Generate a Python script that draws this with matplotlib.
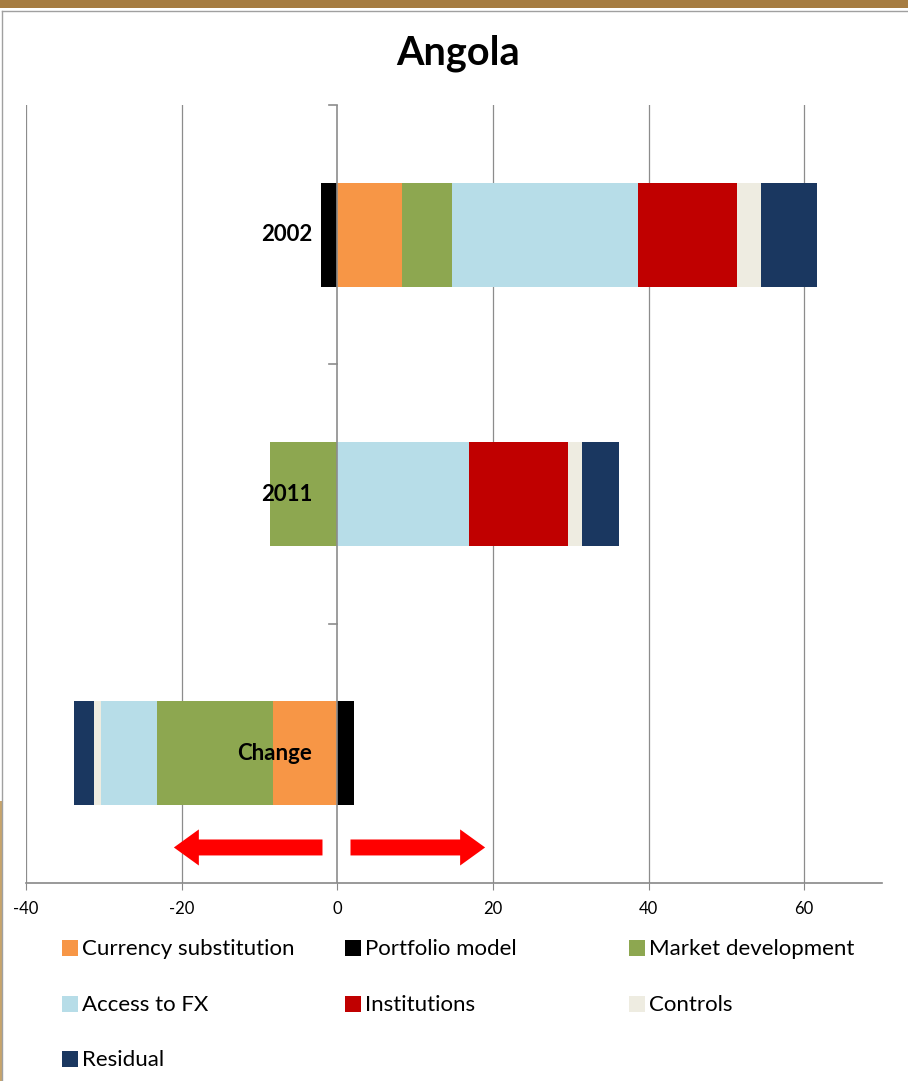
import matplotlib
matplotlib.use("Agg")
import matplotlib.pyplot as plt
from matplotlib.patches import Rectangle, FancyArrowPatch
import numpy as np

plt.rcParams['font.family'] = ['Lato', 'DejaVu Sans']

categories = ["2002", "2011", "Change"]
series_names = ["Currency substitution", "Portfolio model", "Market development",
                "Access to FX", "Institutions", "Controls", "Residual"]
currency_substitution = [8.3, 0.0, -8.3]
portfolio_model = [-2.1, 0.0, 2.1]
market_development = [6.4, -8.6, -14.9]
access_to_fx = [24.0, 16.9, -7.1]
institutions = [12.7, 12.7, 0.0]
controls = [3.1, 1.9, -1.0]
residual = [7.2, 4.7, -2.5]
series_values = [currency_substitution, portfolio_model, market_development,
                 access_to_fx, institutions, controls, residual]
colors = ["#F79646", "#000000", "#8DA750", "#B7DDE8", "#C00000", "#EEECE1", "#1A3760"]
x_ticks = [-40, -20, 0, 20, 40, 60]

W, H = 908, 1081
fig = plt.figure(figsize=(W / 100, H / 100), dpi=100)

# decorative frame
fig.add_artist(Rectangle((0, 1 - 8 / H), 1, 8 / H, transform=fig.transFigure,
                         color="#A67C41", lw=0))
fig.add_artist(Rectangle((0, 0), 3 / W, 280 / H, transform=fig.transFigure,
                         color="#C8A46A", lw=0))
fig.add_artist(plt.Line2D([2 / W, 2 / W], [0, 1 - 11 / H], transform=fig.transFigure,
                          color="#A0A0A0", lw=1))
fig.add_artist(plt.Line2D([2 / W, 1], [1 - 11 / H, 1 - 11 / H], transform=fig.transFigure,
                          color="#A0A0A0", lw=1))

ax = fig.add_axes([26 / W, 1 - 883 / H, (882 - 26) / W, (883 - 105) / H])
ypos = np.array([2, 1, 0])
bar_h = 0.40
pos_left = np.zeros(3)
neg_left = np.zeros(3)
for name, vals, c in zip(series_names, series_values, colors):
    vals = np.array(vals)
    lefts = np.where(vals >= 0, pos_left, neg_left)
    ax.barh(ypos, vals, left=lefts, height=bar_h, color=c, label=name, lw=0, zorder=3)
    pos_left = pos_left + np.where(vals >= 0, vals, 0)
    neg_left = neg_left + np.where(vals < 0, vals, 0)

ax.set_xlim(-40, 70)
ax.set_ylim(-0.5, 2.5)
for s in ["top", "right", "left"]:
    ax.spines[s].set_visible(False)
ax.spines["bottom"].set_color("#888888")
ax.spines["bottom"].set_linewidth(1.2)
ax.set_xticks(x_ticks)
ax.set_xticklabels([str(t) for t in x_ticks], fontsize=12)
ax.tick_params(axis="x", length=5, color="#888888", pad=8)
ax.set_yticks([])
for t in x_ticks:
    if t != 0:
        ax.axvline(t, color="#8C8C8C", lw=0.9, zorder=1)
# category axis at x=0 with boundary ticks
ax.axvline(0, color="#8C8C8C", lw=1.2, zorder=4)
for yb in [0.5, 1.5, 2.5]:
    ax.plot([-1.0, 0], [yb, yb], color="#8C8C8C", lw=1.2, zorder=4, clip_on=False)

for yp, cat in zip(ypos, categories):
    ax.annotate(cat, xy=(0, yp), xytext=(-25, 0), textcoords="offset pixels",
                ha="right", va="center", fontsize=16, fontweight="bold", zorder=6)

# red arrows
arrow_y = -0.363
for x0, x1 in [(-1.9, -21.0), (1.7, 19.0)]:
    ax.add_patch(FancyArrowPatch((x0, arrow_y), (x1, arrow_y),
                                 arrowstyle="simple,head_length=1.8,head_width=2.6,tail_width=1.15",
                                 mutation_scale=10, color="#FF0000", lw=0,
                                 shrinkA=0, shrinkB=0, zorder=5))

fig.text(458 / W, 1 - 53 / H, "Angola", ha="center", va="center",
         fontsize=28.5, fontweight="bold")

# legend
col_x = [62, 345, 629]
row_y = [948, 1004, 1059]
for i, (name, c) in enumerate(zip(series_names, colors)):
    cx = col_x[i % 3]
    ry = row_y[i // 3]
    fig.add_artist(Rectangle((cx / W, 1 - (ry + 8) / H), 16 / W, 16 / H,
                             transform=fig.transFigure, color=c, lw=0))
    fig.text((cx + 20) / W, 1 - (ry + 1) / H, name, ha="left", va="center", fontsize=16)

fig.savefig("out.png", dpi=100)
